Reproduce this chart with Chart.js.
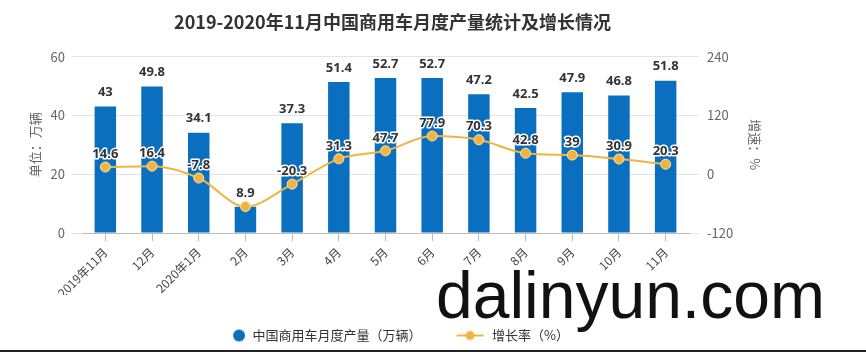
<!DOCTYPE html>
<html><head><meta charset="utf-8">
<script src="https://cdn.jsdelivr.net/npm/chart.js@4/dist/chart.umd.min.js"></script>
<style>html,body{margin:0;padding:0;background:#fff}#wrap{width:866px;height:352px;position:relative;background:#fff}</style>
</head><body><div id="wrap"><canvas id="c" width="866" height="352"></canvas></div>
<script>
const titleText = '2019-2020年11月中国商用车月度产量统计及增长情况';
const categories = ['2019年11月','12月','2020年1月','2月','3月','4月','5月','6月','7月','8月','9月','10月','11月'];
const production = [43, 49.8, 34.1, 8.9, 37.3, 51.4, 52.7, 52.7, 47.2, 42.5, 47.9, 46.8, 51.8];
const growth = [14.6, 16.4, -7.8, -66.1, -20.3, 31.3, 47.7, 77.9, 70.3, 42.8, 39, 30.9, 20.3];
const growthLabels = ['14.6','16.4','-7.8','','-20.3','31.3','47.7','77.9','70.3','42.8','39','30.9','20.3'];
const leftTicks = [0, 20, 40, 60];
const rightTicks = [-120, 0, 120, 240];
const seriesNames = ['中国商用车月度产量（万辆）', '增长率（%）'];
const axisTitles = ['单位：万辆', '增速：%'];
const watermarkText = 'dalinyun.com';

const FONT = '"Microsoft YaHei","Noto Sans CJK SC","Noto Sans",sans-serif';
Chart.defaults.font.family = FONT;
const BAR = '#0b6fbf';
const LINE = '#efb441';

// legend icons
const barIcon = document.createElement('canvas');
barIcon.width = 30; barIcon.height = 14;
(function(){
  const g = barIcon.getContext('2d');
  g.fillStyle = BAR; g.beginPath(); g.arc(23, 7, 6, 0, Math.PI * 2); g.fill();
})();
const lineIcon = document.createElement('canvas');
lineIcon.width = 30; lineIcon.height = 14;
(function(){
  const g = lineIcon.getContext('2d');
  g.strokeStyle = LINE; g.lineWidth = 2;
  g.beginPath(); g.moveTo(1, 7); g.lineTo(28, 7); g.stroke();
  g.fillStyle = LINE; g.beginPath(); g.arc(14.5, 7, 4.5, 0, Math.PI * 2); g.fill();
})();

const labelPlugin = {
  id: 'valueLabels',
  afterDatasetsDraw(chart) {
    const ctx = chart.ctx;
    ctx.save();
    ctx.textAlign = 'center';
    ctx.textBaseline = 'middle';
    ctx.font = 'bold 13px "Open Sans",' + FONT;
    const bm = chart.getDatasetMeta(0);
    bm.data.forEach((el, i) => {
      ctx.fillStyle = '#333';
      ctx.fillText(String(production[i]), el.x, el.y - 14);
    });
    const lm = chart.getDatasetMeta(1);
    lm.data.forEach((el, i) => {
      const t = growthLabels[i];
      if (!t) return;
      ctx.lineWidth = 3;
      ctx.lineJoin = 'round';
      ctx.strokeStyle = '#ffffff';
      ctx.strokeText(t, el.x, el.y - 13);
      ctx.fillStyle = '#333';
      ctx.fillText(t, el.x, el.y - 13);
    });
    ctx.restore();
  }
};

const overlayPlugin = {
  id: 'overlay',
  afterDraw(chart) {
    const ctx = chart.ctx;
    ctx.save();
    ctx.fillStyle = '#111';
    ctx.font = '66px "Liberation Sans", Arial, sans-serif';
    ctx.textAlign = 'left';
    ctx.textBaseline = 'alphabetic';
    ctx.fillText(watermarkText, 436, 318);
    ctx.fillStyle = '#222';
    ctx.fillRect(0, 350, 866, 2);
    ctx.restore();
  }
};

new Chart(document.getElementById('c'), {
  data: {
    labels: categories,
    datasets: [
      {
        type: 'bar', label: seriesNames[0], data: production, yAxisID: 'y',
        backgroundColor: BAR, borderWidth: 0, barPercentage: 0.46, categoryPercentage: 1,
        order: 2
      },
      {
        type: 'line', label: seriesNames[1], data: growth, yAxisID: 'y1',
        borderColor: LINE, borderWidth: 2, tension: 0.4, cubicInterpolationMode: 'monotone',
        pointRadius: 5, pointBackgroundColor: LINE, pointBorderColor: '#fbe3a8', pointBorderWidth: 1,
        order: 1
      }
    ]
  },
  options: {
    responsive: false,
    animation: false,
    layout: { padding: { left: 0, right: 81, top: 0, bottom: 0 } },
    plugins: {
      tooltip: { enabled: false },
      title: {
        display: true, text: titleText, color: '#333',
        font: { size: 18, weight: 'bold', family: FONT },
        padding: { top: 11, bottom: 24 }
      },
      legend: {
        position: 'bottom',
        labels: {
          usePointStyle: true, pointStyleWidth: 30, boxHeight: 13, padding: 34, color: '#333',
          font: { size: 13, family: FONT },
          generateLabels(chart) {
            return chart.data.datasets.map((ds, i) => ({
              text: ds.label, datasetIndex: i,
              fillStyle: i === 0 ? BAR : LINE, strokeStyle: i === 0 ? BAR : LINE,
              lineWidth: 0, pointStyle: i === 0 ? barIcon : lineIcon, hidden: false, fontColor: '#333'
            }));
          }
        }
      }
    },
    scales: {
      x: {
        type: 'category', position: 'bottom',
        grid: { display: true, drawOnChartArea: false, drawTicks: true, tickLength: 8, offset: false, color: '#bbb' },
        border: { display: true, color: '#bbb' },
        ticks: { minRotation: 45, maxRotation: 45, autoSkip: false, color: '#444', font: { size: 12 }, padding: 4 },
        afterFit(s) { s.height = 62; }
      },
      y: {
        position: 'left', min: 0, max: 60,
        afterBuildTicks(s) { s.ticks = leftTicks.map(v => ({ value: v })); },
        grid: { color: '#e3e3e3', tickLength: 10, drawTicks: true },
        border: { display: false },
        ticks: { color: '#666', font: { size: 13 }, padding: 7 },
        title: { display: true, text: axisTitles[0], color: '#666', font: { size: 13 }, padding: { top: 27, bottom: 0 } },
        afterFit(s) { s.width = 82; }
      },
      y1: {
        position: 'right', min: -120, max: 240,
        afterBuildTicks(s) { s.ticks = rightTicks.map(v => ({ value: v })); },
        grid: { drawOnChartArea: false, color: '#e3e3e3', tickLength: 10, drawTicks: true },
        border: { display: false },
        ticks: { color: '#666', font: { size: 13 }, padding: 8 },
        title: { display: true, text: axisTitles[1], color: '#666', font: { size: 13 }, padding: { top: 22, bottom: 0 } },
        afterFit(s) { s.width = 96; }
      }
    }
  },
  plugins: [labelPlugin, overlayPlugin]
});
</script></body></html>
